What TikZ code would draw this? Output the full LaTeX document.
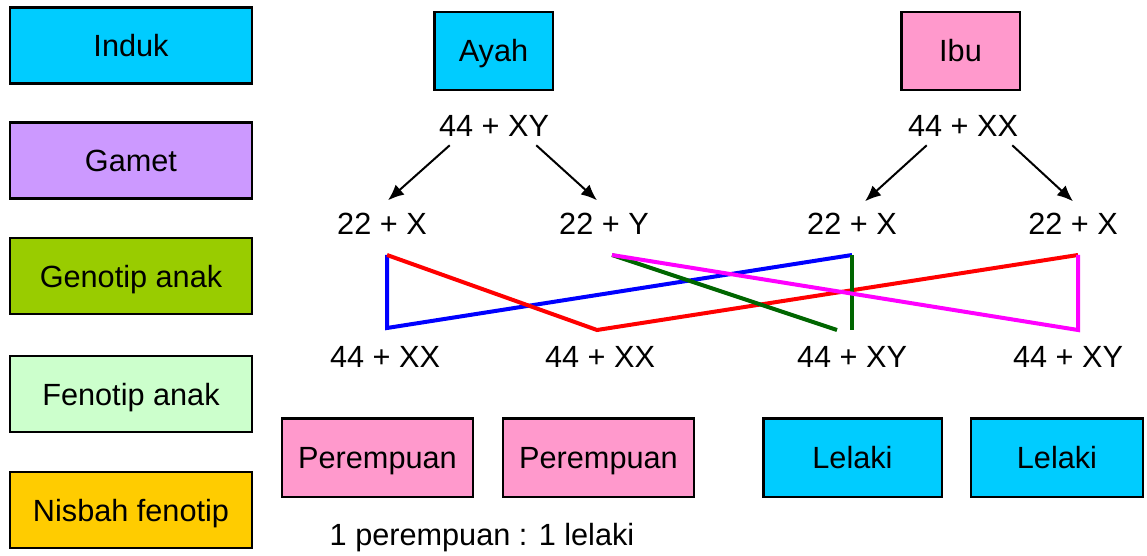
\documentclass[tikz,border=0pt]{standalone}
\usepackage{fontspec}
\setmainfont{Liberation Sans}
\usetikzlibrary{arrows.meta}
\definecolor{biru}{RGB}{0,204,255}
\definecolor{ungu}{RGB}{204,153,255}
\definecolor{hijau}{RGB}{153,204,0}
\definecolor{hijaumuda}{RGB}{204,255,204}
\definecolor{jingga}{RGB}{255,204,0}
\definecolor{merahjambu}{RGB}{255,153,204}
\definecolor{hijautua}{RGB}{0,102,0}
\definecolor{garismerah}{RGB}{255,0,0}
\definecolor{garisbiru}{RGB}{0,0,255}
\definecolor{garisungu}{RGB}{255,0,255}
\tikzset{
  kotak/.style={draw, line width=2pt, inner sep=0pt, text height=16.5pt, text depth=0pt, font=\fontsize{23}{27}\selectfont},
  sisi/.style={kotak, minimum width=181.5pt, minimum height=57pt},
  teks/.style={anchor=base, inner sep=3pt, font=\fontsize{23}{27}\selectfont},
  panah/.style={-{Latex[length=12pt,width=10pt]}, line width=1.5pt},
  garis/.style={line width=3pt, line join=miter}
}
\begin{document}
\begin{tikzpicture}[x=0.75pt,y=0.75pt,yscale=-1,xscale=1]
\useasboundingbox (0,0) rectangle (1147,556);

%Shape: Rectangle (left column)
\node[sisi, fill=biru] (induk) at (131,45.5) {Induk};
\node[sisi, fill=ungu] (gamet) at (131,160.5) {Gamet};
\node[sisi, fill=hijau] (genotip) at (131,276) {Genotip anak};
\node[sisi, fill=hijaumuda] (fenotip) at (131,394) {Fenotip anak};
\node[sisi, fill=jingga] (nisbah) at (131,510) {Nisbah fenotip};

%Shape: Rectangle (parents)
\node[kotak, fill=biru, minimum width=89pt, minimum height=58.5pt] (ayah) at (493.5,51) {Ayah};
\node[kotak, fill=merahjambu, minimum width=89pt, minimum height=58.5pt] (ibu) at (960.5,51) {Ibu};

% Text Node
\node[teks] (pa) at (494,137) {44 + XY};
% Text Node
\node[teks] (pi) at (963,137) {44 + XX};

% Text Node
\node[teks] (ga1) at (382,235) {22 + X};
% Text Node
\node[teks] (gy) at (604,235) {22 + Y};
% Text Node
\node[teks] (gi1) at (852,235) {22 + X};
% Text Node
\node[teks] (gi2) at (1073,235) {22 + X};

%Straight Lines (arrows)
\draw[panah] ([shift={(15,4)}]pa.south west) -- ([shift={(6,-9)}]ga1.north);
\draw[panah] ([shift={(-17,4)}]pa.south east) -- ([shift={(-7,-9)}]gy.north);
\draw[panah] ([shift={(23,4)}]pi.south west) -- ([shift={(13,-8)}]gi1.north);
\draw[panah] ([shift={(-10,4)}]pi.south east) -- ([shift={(0,-8)}]gi2.north);

% ends of the crossing lines
\coordinate (ga1b) at (387,255);
\coordinate (gyb) at (612,255);
\coordinate (gi1b) at (852,255);
\coordinate (gi2b) at (1078,255);
\coordinate (o1t) at (387,328);
\coordinate (o2t) at (597,330);
\coordinate (o3t) at (837,330);
\coordinate (o3u) at (852,330);
\coordinate (o4t) at (1078,330);

%Straight Lines (crossing)
\draw[garis, garisbiru] (ga1b) -- (o1t) -- (gi1b);
\draw[garis, garismerah] (ga1b) -- (o2t) -- (gi2b);
\draw[garis, hijautua] (gyb) -- (o3t);
\draw[garis, hijautua] (gi1b) -- (o3u);
\draw[garis, garisungu] (gyb) -- (o4t) -- (gi2b);

% Text Node
\node[teks] (o1) at (385,368) {44 + XX};
% Text Node
\node[teks] (o2) at (600,368) {44 + XX};
% Text Node
\node[teks] (o3) at (852,368) {44 + XY};
% Text Node
\node[teks] (o4) at (1068,368) {44 + XY};

%Shape: Rectangle (children)
\node[kotak, fill=merahjambu, minimum width=143.25pt, minimum height=59pt] (p1) at (377.5,457.5) {Perempuan};
\node[kotak, fill=merahjambu, minimum width=143.25pt, minimum height=59pt] (p2) at (598.5,457.5) {Perempuan};
\node[kotak, fill=biru, minimum width=134pt, minimum height=59pt] (l1) at (852.5,457.5) {Lelaki};
\node[kotak, fill=biru, minimum width=129pt, minimum height=59pt] (l2) at (1057,457.5) {Lelaki};

% Text Node
\node[teks] (nisbahteks) at (482,545) {1 perempuan : 1 lelaki};

\end{tikzpicture}
\end{document}
